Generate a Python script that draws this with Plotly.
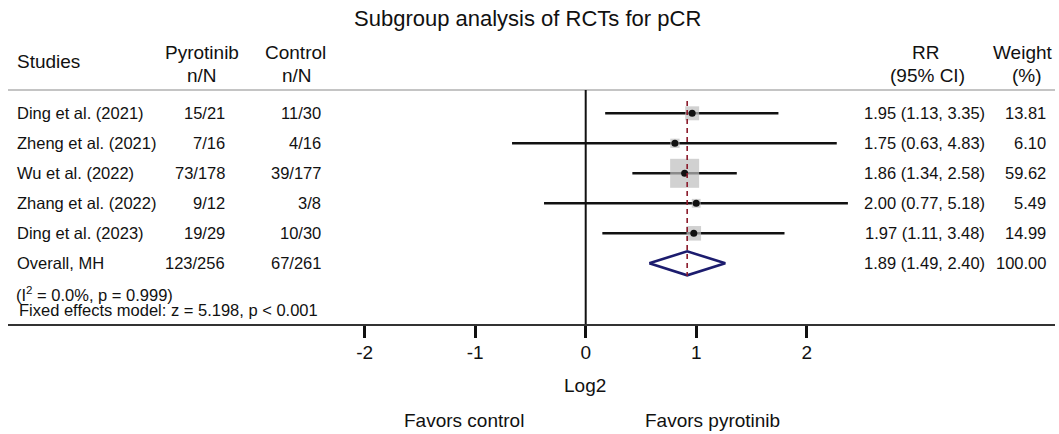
import numpy as np
import plotly.graph_objects as go

# ---------------- data ----------------
studies = ["Ding et al. (2021)", "Zheng et al. (2021)", "Wu et al. (2022)",
           "Zhang et al. (2022)", "Ding et al. (2023)"]
pyro_nN = ["15/21", "7/16", "73/178", "9/12", "19/29"]
ctrl_nN = ["11/30", "4/16", "39/177", "3/8", "10/30"]
rr = [1.95, 1.75, 1.86, 2.00, 1.97]
rr_lo = [1.13, 0.63, 1.34, 0.77, 1.11]
rr_hi = [3.35, 4.83, 2.58, 5.18, 3.48]
weights = [13.81, 6.10, 59.62, 5.49, 14.99]

overall_label = "Overall, MH"
overall_pyro = "123/256"
overall_ctrl = "67/261"
overall_rr = 1.89
overall_lo = 1.49
overall_hi = 2.40
overall_weight = 100.00

heterogeneity_text = "(I<sup>2</sup> = 0.0%, p = 0.999)"
model_text = "Fixed effects model: z = 5.198, p < 0.001"
title_text = "Subgroup analysis of RCTs for pCR"
tick_vals = [-2, -1, 0, 1, 2]
tick_text = ["-2", "-1", "0", "1", "2"]
axis_label = "Log2"
favors_left = "Favors control"
favors_right = "Favors pyrotinib"

# ---------------- layout helpers (pixel -> axis units) ----------------
X0_PX, X_SCALE = 585.7, 110.5      # pixel of log2 = 0, pixels per unit
ROW0_PX, ROW_STEP = 113.3, 30.0    # pixel of first row, pixels per row
PLOT_BOTTOM = 324.0


def px2x(px):
    return (px - X0_PX) / X_SCALE


def py2row(py):
    return (py - ROW0_PX) / ROW_STEP


def py2paper(py):
    return (PLOT_BOTTOM - py) / PLOT_BOTTOM


FONT = "Arial, 'Liberation Sans', sans-serif"
TXT = "#111111"

rows = list(range(len(studies)))
overall_row = len(studies)

l_est = np.log2(rr)
l_lo = np.log2(rr_lo)
l_hi = np.log2(rr_hi)
o_est, o_lo, o_hi = np.log2([overall_rr, overall_lo, overall_hi])

fig = go.Figure()

# CI lines
ci_x, ci_y = [], []
for r, a, b in zip(rows, l_lo, l_hi):
    ci_x += [a, b, None]
    ci_y += [r, r, None]
fig.add_trace(go.Scatter(x=ci_x, y=ci_y, mode="lines",
                         line=dict(color="#111111", width=2.6),
                         hoverinfo="skip"))

# weight squares
w = np.array(weights)
sizes = 29 * np.sqrt(w / w.max())
fig.add_trace(go.Scatter(x=l_est, y=rows, mode="markers",
                         marker=dict(symbol="square", size=sizes, color="#bdbdbd",
                                     line=dict(width=0)),
                         hoverinfo="skip"))
# point estimates
fig.add_trace(go.Scatter(x=l_est, y=rows, mode="markers",
                         marker=dict(symbol="circle", size=7, color="#111111"),
                         hoverinfo="skip"))

# overall diamond
dh = 0.4
fig.add_trace(go.Scatter(x=[o_lo, o_est, o_hi, o_est, o_lo],
                         y=[overall_row, overall_row - dh, overall_row,
                            overall_row + dh, overall_row],
                         mode="lines", line=dict(color="#1c1c6e", width=2.6),
                         hoverinfo="skip"))

shapes = [
    # header separator
    dict(type="line", xref="paper", yref="y", x0=0, x1=1.0,
         y0=py2row(90), y1=py2row(90), line=dict(color="#c4c4c4", width=2)),
    # no-effect line
    dict(type="line", xref="x", yref="y", x0=0, x1=0,
         y0=py2row(90), y1=py2row(324), line=dict(color="#111111", width=2)),
    # overall effect dashed line
    dict(type="line", xref="x", yref="y", x0=o_est, x1=o_est,
         y0=py2row(101), y1=py2row(276),
         line=dict(color="#8b1a2b", width=1.6, dash="5px,4px")),
]

ann = []


def add_text(text, xpx, ypx, size, anchor="left"):
    ann.append(dict(text=text, x=px2x(xpx), y=py2paper(ypx), xref="x", yref="paper",
                    xanchor=anchor, yanchor="middle", showarrow=False,
                    font=dict(family=FONT, size=size, color=TXT)))


# title and headers
add_text(title_text, 527, 18, 22, "center")
add_text("Studies", 15, 62, 19, "left")
add_text("Pyrotinib", 201.7, 52, 19, "center")
add_text("n/N", 201.7, 75, 19, "center")
add_text("Control", 295, 52, 19, "center")
add_text("n/N", 297, 75, 19, "center")
add_text("RR", 925, 52, 19, "center")
add_text("(95% CI)", 927, 75, 19, "center")
add_text("Weight", 1022.7, 52, 19, "center")
add_text("(%)", 1027, 75, 19, "center")

# study rows
all_names = studies + [overall_label]
all_pyro = pyro_nN + [overall_pyro]
all_ctrl = ctrl_nN + [overall_ctrl]
all_rr = list(zip(rr, rr_lo, rr_hi)) + [(overall_rr, overall_lo, overall_hi)]
all_w = weights + [overall_weight]
for i, (nm, p, c, (e, a, b), wt) in enumerate(zip(all_names, all_pyro, all_ctrl,
                                                    all_rr, all_w)):
    ypx = ROW0_PX + ROW_STEP * i
    add_text(nm, 15, ypx, 16.5, "left")
    add_text(p, 227, ypx, 16.5, "right")
    add_text(c, 323, ypx, 16.5, "right")
    add_text(f"{e:.2f} ({a:.2f}, {b:.2f})", 987, ypx, 16.5, "right")
    add_text(f"{wt:.2f}", 1048, ypx, 16.5, "right")

add_text(heterogeneity_text, 14, 294, 16.5, "left")
add_text(model_text, 17, 310, 16.5, "left")

# bottom labels
add_text(axis_label, 585, 385, 19, "center")
add_text(favors_left, 464, 420, 19, "center")
add_text(favors_right, 712, 420, 19, "center")

fig.update_layout(
    width=1059, height=434,
    margin=dict(l=8, r=4, t=0, b=110, pad=0),
    paper_bgcolor="white", plot_bgcolor="white",
    showlegend=False,
    shapes=shapes, annotations=ann,
    font=dict(family=FONT, color=TXT),
    xaxis=dict(range=[px2x(8), px2x(1055)], showgrid=False, zeroline=False,
               showline=True, linecolor="#333333", linewidth=2,
               ticks="outside", tickvals=tick_vals, ticktext=tick_text,
               ticklen=12, tickwidth=3, ticklabelstandoff=-2,
               tickcolor="#111111", tickfont=dict(family=FONT, size=19, color=TXT),
               fixedrange=True),
    yaxis=dict(range=[py2row(324), py2row(0)], visible=False, fixedrange=True),
)

fig.write_html("out.html")
